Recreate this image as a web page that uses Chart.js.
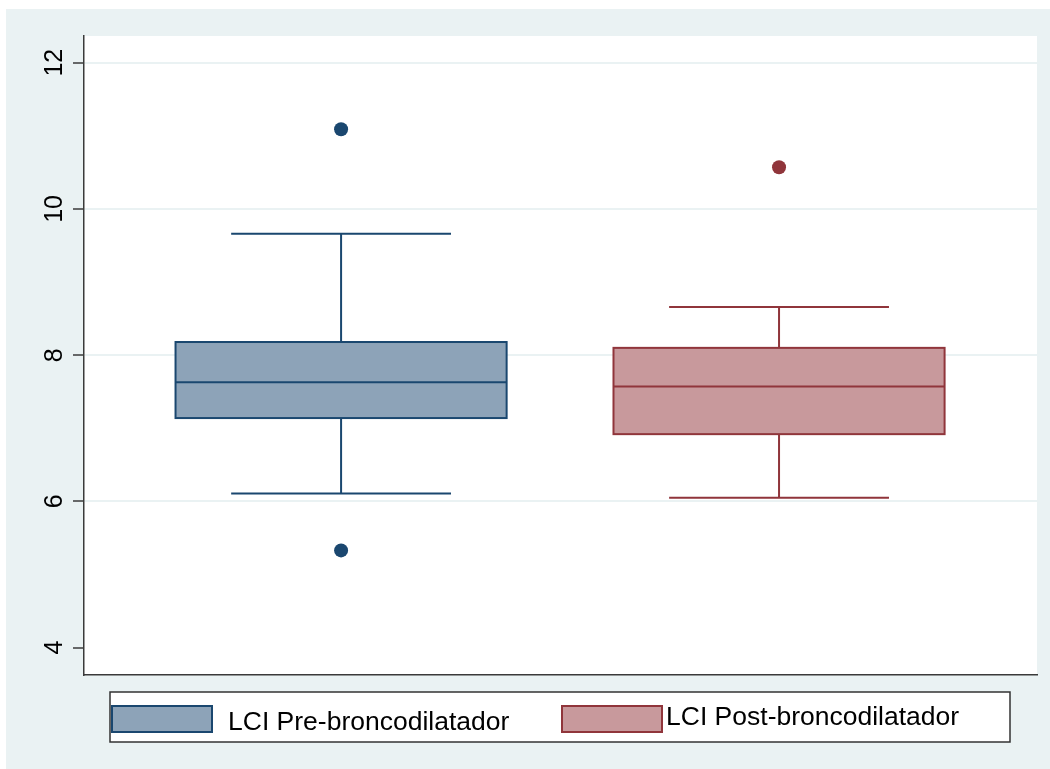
<!DOCTYPE html>
<html lang="es">
<head>
<meta charset="utf-8">
<title>LCI pre y post broncodilatador</title>
<script src="https://cdn.jsdelivr.net/npm/chart.js@4.4.1/dist/chart.umd.min.js"></script>
<style>
  html, body { margin: 0; padding: 0; background: #fff; }
  #contenedor { width: 1050px; height: 769px; position: relative; }
</style>
</head>
<body>
<div id="contenedor"><canvas id="grafico"></canvas></div>
<script>
// Datos de las cajas (LCI antes y después del broncodilatador)
const categorias = ['LCI Pre-broncodilatador', 'LCI Post-broncodilatador'];
const posiciones = [1, 2];
const bigoteInf = [6.11, 6.05];
const q1 = [7.14, 6.92];
const mediana = [7.63, 7.57];
const q3 = [8.18, 8.10];
const bigoteSup = [9.66, 8.66];
const atipicos = [[11.09, 5.33], [10.57]];
const ticksY = [4, 6, 8, 10, 12];

const bordes = ['#1a476f', '#90353b'];
const rellenos = ['#8da3b8', '#c8999c'];
const fondo = '#eaf2f3';
const fuente = '"Liberation Sans", Arial, Helvetica, sans-serif';

// Fondo gris azulado y zona del gráfico en blanco
const fondoPlugin = {
    id: 'fondo',
    beforeDraw(chart) {
        const { ctx, chartArea: a } = chart;
        ctx.save();
        ctx.fillStyle = '#fff';
        ctx.fillRect(0, 0, chart.width, chart.height);
        ctx.fillStyle = fondo;
        ctx.fillRect(6, 9, chart.width - 6, chart.height - 9);
        ctx.fillStyle = '#fff';
        ctx.fillRect(a.left, a.top, a.right - a.left, a.bottom - a.top);
        ctx.restore();
    }
};

// Cajas, medianas y bigotes
const cajasPlugin = {
    id: 'cajas',
    beforeDatasetsDraw(chart) {
        const { ctx, scales: { x, y } } = chart;
        const mediaCaja = 0.378, mediaTope = 0.251;
        ctx.save();
        posiciones.forEach((p, i) => {
            const xc = x.getPixelForValue(p);
            const x0 = x.getPixelForValue(p - mediaCaja);
            const x1 = x.getPixelForValue(p + mediaCaja);
            const c0 = x.getPixelForValue(p - mediaTope);
            const c1 = x.getPixelForValue(p + mediaTope);
            const yInf = y.getPixelForValue(bigoteInf[i]);
            const yQ1 = y.getPixelForValue(q1[i]);
            const yMed = y.getPixelForValue(mediana[i]);
            const yQ3 = y.getPixelForValue(q3[i]);
            const ySup = y.getPixelForValue(bigoteSup[i]);

            ctx.strokeStyle = bordes[i];
            ctx.lineWidth = 2;
            ctx.beginPath();
            ctx.moveTo(xc, yQ3); ctx.lineTo(xc, ySup);
            ctx.moveTo(c0, ySup); ctx.lineTo(c1, ySup);
            ctx.moveTo(xc, yQ1); ctx.lineTo(xc, yInf);
            ctx.moveTo(c0, yInf); ctx.lineTo(c1, yInf);
            ctx.stroke();

            ctx.fillStyle = rellenos[i];
            ctx.fillRect(x0, yQ3, x1 - x0, yQ1 - yQ3);
            ctx.strokeRect(x0, yQ3, x1 - x0, yQ1 - yQ3);
            ctx.beginPath();
            ctx.moveTo(x0, yMed); ctx.lineTo(x1, yMed);
            ctx.stroke();
        });
        ctx.restore();
    }
};

// Etiquetas verticales del eje Y y leyenda inferior
const textosPlugin = {
    id: 'textos',
    afterDraw(chart) {
        const { ctx, scales: { y } } = chart;
        ctx.save();
        ctx.fillStyle = '#000';
        ctx.font = '25px ' + fuente;
        ctx.textAlign = 'center';
        ctx.textBaseline = 'alphabetic';
        ticksY.forEach(v => {
            ctx.save();
            ctx.translate(62, y.getPixelForValue(v));
            ctx.rotate(-Math.PI / 2);
            ctx.fillText(String(v), 0, 0);
            ctx.restore();
        });

        // Caja de la leyenda
        ctx.fillStyle = '#fff';
        ctx.fillRect(110, 692, 900, 50);
        ctx.strokeStyle = '#333';
        ctx.lineWidth = 1.5;
        ctx.strokeRect(110, 692, 900, 50);

        const muestras = [
            { x: 112, texto: 228, base: 729.5 },
            { x: 562, texto: 666, base: 724.5 }
        ];
        ctx.font = '26.5px ' + fuente;
        ctx.textAlign = 'left';
        muestras.forEach((m, i) => {
            ctx.fillStyle = rellenos[i];
            ctx.fillRect(m.x, 706, 100, 26);
            ctx.strokeStyle = bordes[i];
            ctx.lineWidth = 2;
            ctx.strokeRect(m.x, 706, 100, 26);
            ctx.fillStyle = '#000';
            ctx.fillText(categorias[i], m.texto, m.base);
        });
        ctx.restore();
    }
};

const ctx = document.getElementById('grafico');

new Chart(ctx, {
    type: 'scatter',
    data: {
        datasets: categorias.map((c, i) => ({
            label: c,
            data: atipicos[i].map(v => ({ x: posiciones[i], y: v })),
            pointRadius: 7,
            pointHoverRadius: 7,
            backgroundColor: bordes[i],
            borderWidth: 0
        }))
    },
    options: {
        responsive: true,
        maintainAspectRatio: false,
        animation: false,
        layout: { padding: { top: 36, right: 13, left: 0, bottom: 0 } },
        plugins: {
            legend: { display: false },
            tooltip: { enabled: false }
        },
        scales: {
            x: {
                type: 'linear',
                min: 0.413,
                max: 2.589,
                ticks: { display: false },
                grid: { display: false, drawTicks: false },
                border: { display: true, color: '#3a3a3a', width: 1.5 },
                afterFit(s) { s.height = 94.5; }
            },
            y: {
                min: 3.633,
                max: 12.365,
                afterBuildTicks(s) { s.ticks = ticksY.map(v => ({ value: v })); },
                ticks: { display: false },
                grid: {
                    color: c => (c.tick && c.tick.value === 4) ? 'rgba(0,0,0,0)' : fondo,
                    lineWidth: 2,
                    tickLength: 11,
                    tickColor: '#3a3a3a',
                    tickWidth: 1.5
                },
                border: { color: '#3a3a3a', width: 1.5 },
                afterFit(s) { s.width = 84; }
            }
        }
    },
    plugins: [fondoPlugin, cajasPlugin, textosPlugin]
});
</script>
</body>
</html>
